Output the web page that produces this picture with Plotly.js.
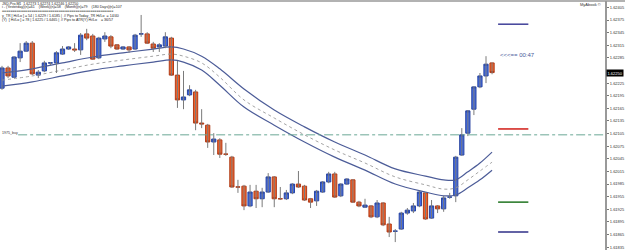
<!DOCTYPE html>
<html><head><meta charset="utf-8">
<script src="https://cdn.plot.ly/plotly-3.0.1.min.js"></script>
<style>html,body{margin:0;padding:0;background:#fff;overflow:hidden}#chart{width:625px;height:250px}</style>
</head><body><div id="chart"></div>
<script>
// ---- data (M1 candles, prices) ----
const openP = [1.62213,1.62261,1.62239,1.62285,1.62301,1.62320,1.62244,1.62254,1.62273,1.62273,
1.62294,1.62306,1.62306,1.62304,1.62342,1.62337,1.62285,1.62330,1.62335,1.62316,
1.62306,1.62311,1.62306,1.62342,1.62342,1.62318,1.62311,1.62313,1.62332,1.62244,
1.62185,1.62197,1.62204,1.62130,1.62125,1.62085,1.62090,1.62056,1.62049,1.61978,
1.61980,1.61933,1.61968,1.61950,1.61966,1.62002,1.61950,1.61950,1.61964,1.61985,
1.61980,1.61950,1.61945,1.61966,1.61990,1.62009,1.61957,1.61985,1.61995,1.61942,
1.61930,1.61933,1.61907,1.61940,1.61890,1.61873,1.61878,1.61916,1.61921,1.61933,
1.61964,1.61904,1.61933,1.61926,1.61954,1.61957,1.62054,1.62106,1.62163,1.62216,
1.62242,1.62273];
const highP = [1.62266,1.62266,1.62289,1.62320,1.62325,1.62325,1.62256,1.62278,1.62275,1.62301,
1.62313,1.62313,1.62320,1.62344,1.62354,1.62342,1.62335,1.62346,1.62339,1.62318,
1.62313,1.62313,1.62342,1.62387,1.62346,1.62323,1.62320,1.62346,1.62335,1.62278,
1.62254,1.62220,1.62209,1.62163,1.62128,1.62106,1.62094,1.62083,1.62052,1.61995,
1.61983,1.61983,1.61983,1.61976,1.62011,1.62004,1.61978,1.61971,1.61987,1.62016,
1.61983,1.61952,1.61971,1.61992,1.62014,1.62014,1.61987,1.61999,1.61997,1.61945,
1.61950,1.61935,1.61947,1.61942,1.61907,1.61878,1.61919,1.61928,1.61940,1.61968,
1.61966,1.61947,1.61935,1.61957,1.61964,1.62052,1.62118,1.62161,1.62218,1.62249,
1.62289,1.62274];
const lowP = [1.62209,1.62237,1.62237,1.62275,1.62299,1.62244,1.62237,1.62251,1.62268,1.62249,
1.62292,1.62304,1.62299,1.62292,1.62327,1.62280,1.62282,1.62323,1.62308,1.62304,
1.62304,1.62297,1.62304,1.62335,1.62318,1.62299,1.62299,1.62308,1.62242,1.62166,
1.62163,1.62194,1.62113,1.62118,1.62071,1.62054,1.62047,1.62052,1.61976,1.61964,
1.61923,1.61930,1.61928,1.61930,1.61964,1.61930,1.61947,1.61947,1.61961,1.61976,
1.61945,1.61928,1.61933,1.61964,1.61987,1.61952,1.61954,1.61983,1.61940,1.61930,
1.61928,1.61904,1.61904,1.61885,1.61859,1.61847,1.61876,1.61912,1.61916,1.61930,
1.61900,1.61902,1.61916,1.61919,1.61950,1.61942,1.62052,1.62099,1.62149,1.62213,
1.62225,1.62246];
const closeP = [1.62261,1.62242,1.62287,1.62301,1.62320,1.62247,1.62251,1.62273,1.62273,1.62297,
1.62306,1.62311,1.62304,1.62339,1.62332,1.62282,1.62332,1.62337,1.62313,1.62306,
1.62311,1.62304,1.62339,1.62342,1.62320,1.62308,1.62316,1.62335,1.62244,1.62185,
1.62192,1.62209,1.62130,1.62128,1.62085,1.62092,1.62056,1.62056,1.61978,1.61978,
1.61933,1.61966,1.61950,1.61966,1.62002,1.61950,1.61950,1.61964,1.61985,1.61978,
1.61947,1.61942,1.61968,1.61990,1.62009,1.61954,1.61985,1.61997,1.61942,1.61933,
1.61935,1.61907,1.61940,1.61888,1.61871,1.61873,1.61916,1.61923,1.61933,1.61966,
1.61902,1.61933,1.61926,1.61952,1.61954,1.62049,1.62102,1.62159,1.62216,1.62242,
1.62270,1.62250];

// envelope bands (upper / middle / lower) sampled at candle indices
const bandIdx   = [0,5,10,15,20,25,28,30,33,36,40,45,50,55,60,65,70,73,75,77,79,81];
const bandUpper = [1.62249,1.62259,1.62273,1.62287,1.62297,1.62306,1.62311,1.62306,1.62289,1.62259,1.62211,1.62161,1.62121,1.62085,1.62054,1.62021,1.62004,1.61995,1.61995,1.62014,1.62035,1.62061];
const bandMid   = [1.62232,1.62242,1.62256,1.62270,1.62280,1.62289,1.62294,1.62289,1.62273,1.62239,1.62185,1.62142,1.62102,1.62066,1.62035,1.62002,1.61983,1.61973,1.61976,1.61995,1.62016,1.62037];
const bandLower = [1.62218,1.62228,1.62242,1.62256,1.62266,1.62275,1.62280,1.62275,1.62256,1.62220,1.62168,1.62125,1.62085,1.62049,1.62018,1.61985,1.61966,1.61957,1.61959,1.61976,1.61995,1.62018];

// price scale labels (the 1.62255 slot is covered by the current-price label)
const yTicks = [1.62405,1.62375,1.62345,1.62315,1.62285,1.62225,1.62195,1.62165,1.62135,
1.62105,1.62075,1.62045,1.62015,1.61985,1.61955,1.61925,1.61895,1.61865,1.61835];

const buyLevel = 1.62102;
const levelPrices = [1.62365, 1.62116, 1.61942, 1.61871];
const levelStart = 82, levelEnd = 87;

const headerLines = [
  "JSD.Pro,M1  1.62273 1.62274 1.62246 1.62250",
  "i - (Yesterday)(n)=61    (Week)(n)=58    (Month)(n)=79    (180 Days)(n)=107",
  "=====================================================",
  "y_TR [ Hi/Lo ] = 54 | 1.6229 / 1.6185 |  // Pips to Today_TR Hi/Lo  = 14/40",
  "(Y)  [ Hi/Lo ] = 78 | 1.6225 / 1.6465 |  // Pips to ATR(Y) Hi/Lo    = 36/57"
];
const timerText = "<<<== 00:47";
const buyLabel = "1975_buy";
const brandText = "MyAbook ©";

// ---- styles ----
const levelColors = ['#4a4a9e', '#d42a24', '#2f7d2f', '#3d3d8f'];
const bandColor = '#4c5c98';

const idx = openP.map((_, i) => i);
const bodyHigh = openP.map((o, i) => Math.max(o, closeP[i]));
const bodyLow = openP.map((o, i) => Math.min(o, closeP[i]));

const wx = [], wy = [];
idx.forEach(i => { wx.push(i, i, null); wy.push(lowP[i], highP[i], null); });

const traces = [
  {type:'scatter', mode:'lines', x: bandIdx, y: bandUpper, line:{color: bandColor, width:1.2, shape:'spline'}, hoverinfo:'skip'},
  {type:'scatter', mode:'lines', x: bandIdx, y: bandMid, line:{color:'#9a9a9a', width:0.9, dash:'dot', shape:'spline'}, hoverinfo:'skip'},
  {type:'scatter', mode:'lines', x: bandIdx, y: bandLower, line:{color: bandColor, width:1.2, shape:'spline'}, hoverinfo:'skip'},
  {type:'scatter', mode:'lines', x: wx, y: wy, line:{color:'#7a7a7a', width:1}, hoverinfo:'skip', connectgaps:false},
  {type:'candlestick', x: idx, open: openP, high: bodyHigh, low: bodyLow, close: closeP,
   increasing:{fillcolor:'#4169e1', line:{color:'#2a46a0', width:1}},
   decreasing:{fillcolor:'#f0602a', line:{color:'#b03c18', width:1}},
   whiskerwidth:0, hoverinfo:'skip'}
];

const shapes = [
  {type:'line', xref:'paper', yref:'paper', x0:0, x1:1.04, y0:1, y1:1, line:{color:'#999', width:1.5}},
  {type:'line', xref:'paper', yref:'y', x0:0.03, x1:1, y0:buyLevel, y1:buyLevel, line:{color:'#6aa896', width:1, dash:'dashdot'}}
];
levelPrices.forEach((p, k) => shapes.push({type:'line', xref:'x', yref:'y', x0:levelStart, x1:levelEnd, y0:p, y1:p, line:{color: levelColors[k], width:1.6}}));

const headerY = [3.5, 7.5, 11, 15.5, 20];
const annotations = headerLines.map((t, k) => ({
  xref:'paper', yref:'paper', x:0, y: 1 - (headerY[k]-1)/249, xanchor:'left', yanchor:'middle',
  text: t, showarrow:false, font:{family:'Liberation Sans', size:3.6, color:'#222'}
}));
annotations.push({xref:'paper', yref:'paper', x:603/605, y:1-(4-1)/249, xanchor:'right', yanchor:'middle', text: brandText, showarrow:false, font:{family:'Liberation Sans', size:4, color:'#333'}});
annotations.push({xref:'x', yref:'y', x:levelStart, y:1.62293, xanchor:'left', yanchor:'middle', text: timerText.replace(/</g,'&lt;'), showarrow:false, font:{family:'Liberation Sans', size:6, color:'#4a5a9a'}});
annotations.push({xref:'paper', yref:'y', x:0, y:buyLevel, xanchor:'left', yanchor:'bottom', yshift:-2, text: buyLabel, showarrow:false, font:{family:'Liberation Sans', size:3.6, color:'#333'}});
annotations.push({xref:'paper', yref:'y', x:1, xshift:1, y: closeP[closeP.length-1], xanchor:'left', yanchor:'middle', text: closeP[closeP.length-1].toFixed(5), showarrow:false, bgcolor:'#000', borderpad:0.5, font:{family:'Liberation Sans', size:4, color:'#fff'}});

const layout = {
  width:625, height:250,
  margin:{l:0, r:20, t:1, b:0},
  paper_bgcolor:'#fff', plot_bgcolor:'#fff',
  showlegend:false,
  boxgap:0.3, boxgroupgap:0,
  xaxis:{range:[-0.33, 99.67], visible:false, rangeslider:{visible:false}, fixedrange:true},
  yaxis:{side:'right', range:[1.618282, 1.624202], tickvals: yTicks, ticktext: yTicks.map(v => v.toFixed(5)),
         tickfont:{family:'Liberation Sans', size:4, color:'#333'}, ticks:'outside', ticklen:2, tickcolor:'#777',
         showgrid:false, zeroline:false, showline:true, linecolor:'#999', linewidth:2, fixedrange:true},
  shapes: shapes,
  annotations: annotations
};

Plotly.newPlot('chart', traces, layout, {staticPlot:true, displayModeBar:false});
</script>
</body></html>
